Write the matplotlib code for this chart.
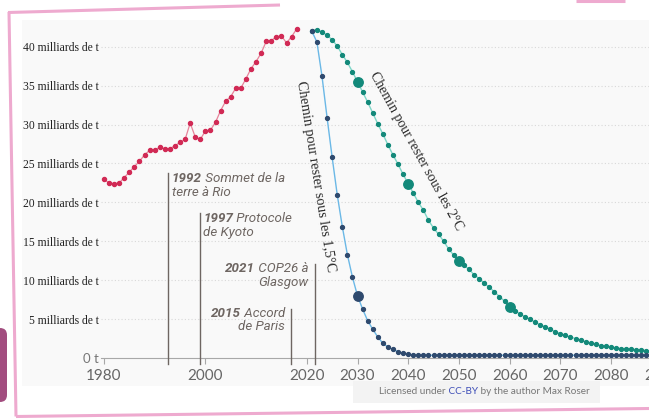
import matplotlib
matplotlib.use('Agg')
import matplotlib.pyplot as plt
from matplotlib import font_manager
from matplotlib.patches import Rectangle, FancyBboxPatch
from matplotlib.lines import Line2D
from matplotlib.transforms import IdentityTransform

# ---------------- data ----------------
hist_years = list(range(1980, 2019))
hist_vals = [22.96, 22.5, 22.4, 22.5, 23.2, 23.9, 24.6, 25.3, 26.1, 26.7,
             26.7, 27.1, 26.9, 26.9, 27.3, 27.7, 28.1, 30.2, 28.4, 28.1,
             29.2, 29.3, 30.3, 31.8, 33.0, 33.6, 34.7, 34.7, 35.9, 37.2,
             38.1, 39.2, 40.7, 40.8, 41.3, 41.4, 40.5, 41.3, 42.3]

path_years = list(range(2021, 2091))
path_2c = [42.0, 42.2, 41.9, 41.5, 40.9, 40.1, 39.0, 38.0, 36.8, 35.5,
           34.2, 32.9, 31.5, 30.1, 28.8, 27.4, 26.1, 24.9, 23.6, 22.4,
           21.2, 20.0, 19.0, 17.7, 16.7, 15.9, 15.0, 14.0, 13.2, 12.5,
           11.9, 11.4, 10.7, 10.2, 9.6, 9.1, 8.5, 7.9, 7.3, 6.6,
           6.1, 5.7, 5.3, 5.0, 4.6, 4.3, 4.0, 3.7, 3.4, 3.1,
           2.9, 2.7, 2.5, 2.3, 2.1, 1.9, 1.8, 1.6, 1.5, 1.4,
           1.3, 1.2, 1.2, 1.1, 1.0, 1.0, 0.95, 0.9, 0.9, 0.85]
path_15 = [42.0, 40.6, 36.2, 30.9, 25.8, 21.0, 16.9, 13.3, 10.4, 8.0,
           6.3, 4.8, 3.7, 2.7, 1.9, 1.4, 1.1, 0.8, 0.6, 0.45,
           0.38, 0.35, 0.35, 0.35, 0.35, 0.35, 0.35, 0.35, 0.35, 0.35,
           0.35, 0.35, 0.35, 0.35, 0.35, 0.35, 0.35, 0.35, 0.35, 0.35,
           0.35, 0.35, 0.35, 0.35, 0.35, 0.35, 0.35, 0.35, 0.35, 0.35,
           0.35, 0.35, 0.35, 0.35, 0.35, 0.35, 0.35, 0.35, 0.35, 0.35,
           0.35, 0.35, 0.35, 0.35, 0.35, 0.35, 0.35, 0.35, 0.35, 0.35]
big_2c_years = [2030, 2040, 2050, 2060]
big_15_years = [2030]

x_ticks = [1980, 2000, 2020, 2030, 2040, 2050, 2060, 2070, 2080, 2090]
y_ticks = [0, 5, 10, 15, 20, 25, 30, 35, 40]
y_labels = ["0 t"] + [f"{v} milliards de t" for v in y_ticks[1:]]

events_year = ["1992", "1997", "2015", "2021"]
events_text1 = [" Sommet de la", " Protocole", " Accord", " COP26 à"]
events_text2 = ["terre à Rio", "de Kyoto", "de Paris", "Glasgow"]

label_15 = "Chemin pour rester sous les 1,5°C"
label_2c = "Chemin pour rester sous les 2°C"

# ---------------- fonts ----------------
def italic_family(cands):
    have = {(f.name, f.style) for f in font_manager.fontManager.ttflist}
    for c in cands:
        if (c, 'italic') in have:
            return c
    return 'DejaVu Sans'

EV_FONT = italic_family(['Roboto', 'Open Sans', 'Lato', 'Noto Sans',
                         'Liberation Sans', 'DejaVu Sans'])

# ---------------- figure ----------------
W, H = 649, 419
fig = plt.figure(figsize=(W / 100, H / 100), dpi=100)
fig.patch.set_facecolor('white')

def fx(p):
    return p / W

def fy(p):
    return 1 - p / H

# page background (light grey chart area)
fig.patches.append(Rectangle((fx(22), fy(386)), (W - 22) / W, (386 - 20) / H,
                             transform=fig.transFigure, facecolor='#f9f9f9',
                             edgecolor='none', zorder=-2))
fig.patches.append(Rectangle((fx(353), fy(403)), (600 - 353) / W, (403 - 381) / H,
                             transform=fig.transFigure, facecolor='#f3f3f3',
                             edgecolor='none', zorder=-2))

# pink frame lines
pink = '#eeaacf'
for (x0, y0, x1, y1) in [(8, 12.5, 280, 5), (9, 12, 16, 416.5),
                         (16, 416.5, 649, 408.5), (576, 0.8, 625, 0.8)]:
    fig.add_artist(Line2D([fx(x0), fx(x1)], [fy(y0), fy(y1)],
                          transform=fig.transFigure, color=pink, lw=2.2,
                          solid_capstyle='butt', zorder=-1))
fig.add_artist(FancyBboxPatch((-14, H - 402), 21, 74,
                              boxstyle='round,pad=0,rounding_size=7',
                              transform=IdentityTransform(),
                              facecolor='#a24d7f', edgecolor='none', zorder=-1))

# axes placement (pixel mapping)
PX1980, PXYR, PY0, PYU = 104, 5.07, 358, 7.78
XMIN, XMAX, YMIN, YMAX = 1979.5, 2090, 0, 43
left = PX1980 + (XMIN - 1980) * PXYR
right = PX1980 + (XMAX - 1980) * PXYR
top = PY0 - YMAX * PYU
ax = fig.add_axes([left / W, (H - PY0) / H, (right - left) / W, (PY0 - top) / H])
ax.set_facecolor('none')
ax.set_zorder(1)
ax.set_xlim(XMIN, XMAX)
ax.set_ylim(YMIN, YMAX)

for s in ['top', 'right', 'left']:
    ax.spines[s].set_visible(False)
ax.spines['bottom'].set_color('#a8a8a8')
ax.spines['bottom'].set_linewidth(0.8)

for v in y_ticks[1:]:
    ax.axhline(v, color='#d9d9d9', lw=0.8, ls=(0, (1, 2)), zorder=1)

ax.set_xticks(x_ticks)
ax.set_xticklabels([str(t) for t in x_ticks])
ax.tick_params(axis='x', length=4, width=0.8, color='#a8a8a8', pad=4,
               labelsize=11, labelcolor='#666666')
for lbl in ax.get_xticklabels():
    lbl.set_fontfamily('Lato')

ax.set_yticks(y_ticks)
ax.set_yticklabels(y_labels)
ax.tick_params(axis='y', length=0, pad=2)
for i, tick in enumerate(ax.yaxis.get_major_ticks()):
    if i == 0:
        tick.label1.set_fontfamily('Lato')
        tick.label1.set_fontsize(9.5)
        tick.label1.set_color('#777777')
    else:
        tick.label1.set_fontfamily('Liberation Serif')
        tick.label1.set_fontsize(8.4)
        tick.label1.set_color('#222222')

# series
ax.plot(hist_years, hist_vals, color='#e7839a', lw=0.9, marker='o', ms=2.9,
        mfc='#d12a55', mec='#d12a55', zorder=4, clip_on=False)
ax.plot(path_years, path_2c, color='#7fd6c8', lw=1.0, marker='o', ms=2.8,
        mfc='#13897a', mec='#13897a', zorder=4, clip_on=False)
ax.plot(path_years, path_15, color='#6bb8e6', lw=1.0, marker='o', ms=2.8,
        mfc='#2f4a6e', mec='#2f4a6e', zorder=5, clip_on=False)
ax.plot(big_2c_years, [path_2c[path_years.index(y)] for y in big_2c_years], 'o',
        ms=6.8, color='#13897a', zorder=6)
ax.plot(big_15_years, [path_15[path_years.index(y)] for y in big_15_years], 'o',
        ms=6.8, color='#2f4a6e', zorder=6)

# event annotations
ev_col = '#6e6662'
ev_fs = 9.6
ev_line_x = [1992.7, 1998.9, 2016.9, 2021.6]
ev_line_top = [23.8, 18.6, 6.3, 12.1]
ev_text_x = [1993.35, 1999.6, 2015.7, 2020.3]
ev_text_top = [23.9, 18.8, 6.6, 12.3]
ev_align = ['left', 'left', 'right', 'right']
for i in range(4):
    ax.plot([ev_line_x[i]] * 2, [-0.8, ev_line_top[i]], color=ev_col, lw=1.0,
            clip_on=False, zorder=3)
    if ev_align[i] == 'left':
        t1 = ax.text(ev_text_x[i], ev_text_top[i], events_year[i],
                     fontfamily=EV_FONT, fontstyle='italic', fontweight='bold',
                     fontsize=ev_fs, color=ev_col, ha='left', va='top', zorder=7)
        ax.annotate(events_text1[i], xy=(1, 0), xycoords=t1, ha='left', va='bottom',
                    fontfamily=EV_FONT, fontstyle='italic', fontsize=ev_fs,
                    color=ev_col, zorder=7)
        ax.annotate(events_text2[i], xy=(0, 0), xycoords=t1, ha='left', va='top',
                    xytext=(0, -0.6), textcoords='offset points',
                    fontfamily=EV_FONT, fontstyle='italic', fontsize=ev_fs,
                    color=ev_col, zorder=7)
    else:
        t1 = ax.text(ev_text_x[i], ev_text_top[i], events_text1[i],
                     fontfamily=EV_FONT, fontstyle='italic',
                     fontsize=ev_fs, color=ev_col, ha='right', va='top', zorder=7)
        ax.annotate(events_year[i], xy=(0, 0), xycoords=t1, ha='right', va='bottom',
                    fontfamily=EV_FONT, fontstyle='italic', fontweight='bold',
                    fontsize=ev_fs, color=ev_col, zorder=7)
        ax.annotate(events_text2[i], xy=(1, 0), xycoords=t1, ha='right', va='top',
                    xytext=(0, -0.6), textcoords='offset points',
                    fontfamily=EV_FONT, fontstyle='italic', fontsize=ev_fs,
                    color=ev_col, zorder=7)

# pathway labels
ax.text(2021.8, 23.3, label_15, rotation=-81, rotation_mode='anchor',
        ha='center', va='center', fontfamily='Liberation Serif', fontsize=10.2,
        color='#2a2a2a', zorder=7)
ax.text(2041.6, 26.6, label_2c, rotation=-61, rotation_mode='anchor',
        ha='center', va='center', fontfamily='Liberation Serif', fontsize=10.0,
        color='#2a2a2a', zorder=7)

# license
l1 = fig.text(fx(379), fy(391), "Licensed under", fontfamily='Lato', fontsize=7.2,
              color='#777777', ha='left', va='center')
an2 = ax.annotate(" CC-BY", xy=(1, 0), xycoords=l1, ha='left', va='bottom',
                  fontfamily='Lato', fontsize=7.2, color='#3f4fb8',
                  annotation_clip=False)
ax.annotate(" by the author Max Roser", xy=(1, 0), xycoords=an2, ha='left',
            va='bottom', fontfamily='Lato', fontsize=7.2, color='#777777',
            annotation_clip=False)

fig.savefig('out.png', dpi=100)
